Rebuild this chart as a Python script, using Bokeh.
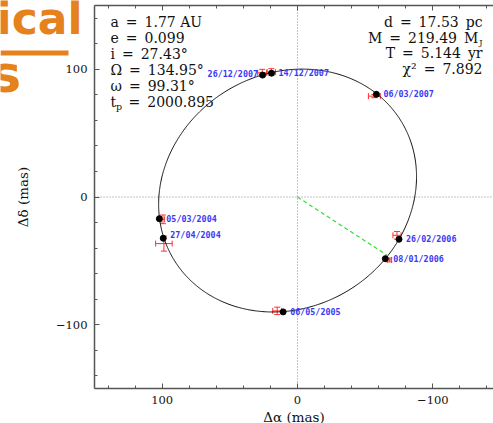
import numpy as np
from bokeh.plotting import figure
from bokeh.models import (Range1d, LinearAxis, SingleIntervalTicker, Label,
                          ColumnDataSource, Whisker, TeeHead,
                          GlobalInlineStyleSheet, CustomJSTickFormatter)
from bokeh.core.properties import value
from bokeh.embed import file_html
from bokeh.resources import INLINE

# ---- orbital solution shown in the panel ----
a_AU = 1.77
ecc = 0.099
incl_deg = 27.43
Omega_deg = 134.95
omega_deg = 99.31
t_peri = 2000.895
dist_pc = 17.53
mass_MJ = 219.49
period_yr = 5.144
chi2 = 7.892

# ---- epochs: model positions (black) and measurements (red) in mas ----
dates = ["05/03/2004", "27/04/2004", "06/05/2005", "08/01/2006",
         "26/02/2006", "06/03/2007", "14/12/2007", "26/12/2007"]
model_ra = [102.1, 99.2, 10.6, -64.9, -75.0, -58.3, 19.2, 25.8]
model_dec = [-17.0, -32.3, -90.0, -48.3, -33.1, 80.4, 97.0, 95.5]
obs_ra = [99.4, 98.7, 15.0, -67.9, -73.5, -56.8, 19.3, 26.1]
obs_dec = [-17.5, -36.5, -89.2, -49.3, -30.0, 79.0, 97.8, 97.3]
err_ra = [1.2, 6.1, 3.3, 1.5, 3.0, 4.4, 3.1, 3.3]
err_dec = [3.4, 5.9, 2.9, 1.5, 3.0, 1.2, 2.7, 2.7]

# axis limits of the plotting box (mas) and tick labels
x_lim = (150, -150)
y_lim = (-150, 150)
tick_labels = {100: "100", 0: "0", -100: "\u2212100"}

# label placement (screen px offsets, style only)
lab_dx = [7, 7, 7, 8, 7, 7, 7, -55]
lab_dy = [0, -3, 0, 0, 0, 0, 0, -1]

# ---- orbit from the Thiele-Innes constants of the solution ----
a_mas = a_AU / dist_pc * 1000.0
w = np.radians(omega_deg); W = np.radians(Omega_deg); inc = np.radians(incl_deg)
A = a_mas * (np.cos(w) * np.cos(W) - np.sin(w) * np.sin(W) * np.cos(inc))
B = a_mas * (np.cos(w) * np.sin(W) + np.sin(w) * np.cos(W) * np.cos(inc))
F = a_mas * (-np.sin(w) * np.cos(W) - np.cos(w) * np.sin(W) * np.cos(inc))
G = a_mas * (-np.sin(w) * np.sin(W) + np.cos(w) * np.cos(W) * np.cos(inc))
E = np.linspace(0, 2 * np.pi, 721)
Xo = np.cos(E) - ecc
Yo = np.sqrt(1 - ecc ** 2) * np.sin(E)
orbit_dec = A * Xo + F * Yo
orbit_ra = B * Xo + G * Yo
peri_ra, peri_dec = orbit_ra[0], orbit_dec[0]

# ---- geometry: the plotting box occupies px 94..(cut) x 5..388 ----
W_PX, H_PX = 493, 423
BOX_L, BOX_T, BOX_B = 94, 5, 388
XSCALE = (x_lim[1] - x_lim[0]) / 406.0          # mas per px
YSCALE = (y_lim[1] - y_lim[0]) / (BOX_B - BOX_T)

def px2x(px):
    return x_lim[0] + (px - BOX_L) * XSCALE

def px2y(py):
    return y_lim[1] - (py - BOX_T) * YSCALE

p = figure(x_range=Range1d(px2x(0), px2x(W_PX)),
           y_range=Range1d(px2y(H_PX), px2y(0)),
           width=W_PX, height=H_PX,
           min_border_left=0, min_border_right=0, min_border_top=0,
           min_border_bottom=0,
           output_backend="svg", toolbar_location=None)
p.stylesheets = [GlobalInlineStyleSheet(css="html,body{margin:0;padding:0;overflow:hidden;}")]
p.outline_line_color = None
p.grid.visible = False
p.background_fill_color = "white"
p.border_fill_color = "white"

AX_COL = "#555555"
def style_axis(ax):
    ax.ticker = SingleIntervalTicker(interval=100, num_minor_ticks=5)
    ax.axis_line_color = AX_COL
    ax.axis_line_width = 1.5
    ax.major_tick_line_color = AX_COL
    ax.minor_tick_line_color = AX_COL
    ax.major_tick_in = 5
    ax.major_tick_out = 0
    ax.minor_tick_in = 3
    ax.minor_tick_out = 0
    ax.major_label_text_font = "DejaVu Serif"
    ax.major_label_text_font_size = "11.5px"
    ax.major_label_text_color = "#111111"
    ax.axis_label_text_font = "DejaVu Serif"
    ax.axis_label_text_font_size = "13.5px"
    ax.axis_label_text_font_style = "normal"
    ax.axis_label_text_color = "#111111"

xa = p.xaxis[0]
style_axis(xa)
xa.fixed_location = y_lim[0]
xa.bounds = (min(x_lim), max(x_lim))
xa.major_label_overrides = tick_labels
xa.axis_label = "\u0394\u03b1 (mas)"
xa.major_label_standoff = 7
xa.axis_label_standoff = 2

ya = p.yaxis[0]
style_axis(ya)
ya.fixed_location = x_lim[0]
ya.bounds = (min(y_lim), max(y_lim))
ya.major_label_overrides = tick_labels
ya.axis_label = "\u0394\u03b4 (mas)"
ya.major_label_standoff = 7
ya.axis_label_standoff = 22

top_ax = LinearAxis(formatter=CustomJSTickFormatter(code="return ''"))
style_axis(top_ax)
top_ax.fixed_location = y_lim[1]
top_ax.bounds = (min(x_lim), max(x_lim))
top_ax.major_label_standoff = 0
p.add_layout(top_ax, "above")

# dotted zero lines across the plotting box
p.line([0, 0], list(y_lim), line_color="#888888", line_dash="1 2", line_width=1)
p.line(list(x_lim), [0, 0], line_color="#888888", line_dash="1 2", line_width=1)

# orbit and periastron line
p.line(orbit_ra, orbit_dec, line_color="#111111", line_width=1)
p.line([0, peri_ra], [0, peri_dec], line_color="#33dd33", line_width=1.2,
       line_dash="4 3")

# error bars
src = ColumnDataSource(dict(
    ra=obs_ra, dec=obs_dec,
    ra_lo=[r - e for r, e in zip(obs_ra, err_ra)],
    ra_hi=[r + e for r, e in zip(obs_ra, err_ra)],
    dec_lo=[d - e for d, e in zip(obs_dec, err_dec)],
    dec_hi=[d + e for d, e in zip(obs_dec, err_dec)],
))
RED = "#ff3030"
p.add_layout(Whisker(source=src, base="dec", lower="ra_lo", upper="ra_hi",
                     dimension="width", line_color=RED, line_width=1,
                     lower_head=TeeHead(size=6, line_color=RED, line_width=1),
                     upper_head=TeeHead(size=6, line_color=RED, line_width=1)))
p.add_layout(Whisker(source=src, base="ra", lower="dec_lo", upper="dec_hi",
                     dimension="height", line_color=RED, line_width=1,
                     lower_head=TeeHead(size=6, line_color=RED, line_width=1),
                     upper_head=TeeHead(size=6, line_color=RED, line_width=1)))

# model points
p.scatter(model_ra, model_dec, size=6, fill_color="black", line_color="black")

# epoch labels
p.text(x=model_ra, y=model_dec, text=dates, x_offset=lab_dx, y_offset=lab_dy,
       text_align="left", text_baseline="middle",
       text_font=value("DejaVu Sans Mono"), text_font_style="bold",
       text_font_size="8.4px", text_color="#3a3af5")

# parameter blocks (py = wanted baseline in px; anchor raised to compensate)
SP = "\u2002"
def lab(txt, px, py, size=14, align="left", font="DejaVu Serif",
        color="#111111", style="normal"):
    p.add_layout(Label(x=px2x(px), y=px2y(py - 0.35 * size), text=txt,
                       text_font=font, text_font_size=f"{size}px",
                       text_color=color, text_font_style=style,
                       text_align=align, text_baseline="alphabetic"))

lab(f"a{SP}={SP}{a_AU:.2f} AU", 110, 26)
lab(f"e{SP}={SP}{ecc:.3f}", 110, 42)
lab(f"i{SP}={SP}{incl_deg:.2f}\u00b0", 110, 58)
lab(f"\u03a9{SP}={SP}{Omega_deg:.2f}\u00b0", 110, 74)
lab(f"\u03c9{SP}={SP}{omega_deg:.2f}\u00b0", 110, 90)
lab("t", 110, 106)
lab("p", 115.5, 109, size=9.5)
lab(f"={SP}{t_peri:.3f}", 128, 106)

lab(f"d{SP}={SP}{dist_pc:.2f}{SP}pc", 482, 26.5, align="right")
lab(f"M{SP}={SP}{mass_MJ:.2f}{SP}M", 477.8, 42, align="right")
lab("J", 478.8, 44.5, size=8.2)
lab(f"T{SP}={SP}{period_yr:.3f}{SP}yr", 482, 57.5, align="right")
lab(f"\u03c7\u00b2{SP}={SP}{chi2:.3f}", 482, 73, align="right")

# slide title fragments (orange, cut off at the page edge)
ORANGE = "#e5821e"
lab("ical", 82, 33, size=44, align="right", font="DejaVu Sans",
    color=ORANGE, style="bold")
lab("s", 20.6, 92, size=52, align="right", font="DejaVu Sans",
    color=ORANGE, style="bold")
p.quad(left=[px2x(0)], right=[px2x(68)], top=[px2y(50)], bottom=[px2y(55)],
       fill_color=ORANGE, line_color=None)

open("out.html", "w").write(file_html(p, INLINE))
